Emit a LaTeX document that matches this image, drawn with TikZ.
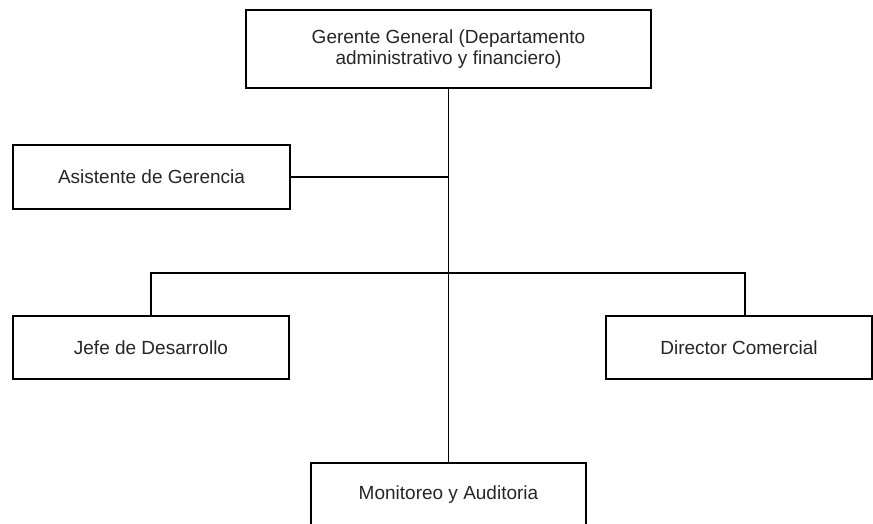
\documentclass[tikz,border=0pt]{standalone}
\usepackage{fontspec}
\setmainfont{Liberation Sans}
\begin{document}
\begin{tikzpicture}[x=1pt,y=-1pt,
  unit/.style={draw=black, line width=1.8pt, fill=white, inner sep=0pt,
    align=center, font=\fontsize{19}{21}\selectfont, text=black!85},
  link/.style={draw=black, line width=1.5pt}]
\useasboundingbox (0,0) rectangle (873,523);
% boxes: centre, width, height
\node[unit, minimum width=405pt, minimum height=78pt] (gg) at (448.5,49)
  {Gerente General (Departamento\\administrativo y financiero)};
\node[unit, minimum width=277pt, minimum height=64pt] (as) at (151.5,177)
  {Asistente de Gerencia};
\node[unit, minimum width=276pt, minimum height=63pt] (jd) at (151,347.5)
  {Jefe de Desarrollo};
\node[unit, minimum width=266pt, minimum height=63pt] (dc) at (739,347.5)
  {Director Comercial};
\node[unit, minimum width=275pt, minimum height=100pt, text depth=40pt] (ma) at (448.5,513)
  {Monitoreo y Auditoria};
% connectors
\coordinate (hub) at (gg.south |- 0,273);
\coordinate (dcin) at (745,0 |- dc.north);
\draw[link] (gg.south) -- (ma.north);
\draw[link] (as.east) -- (as.east -| gg.south);
\draw[link] (jd.north) |- (hub) -| (dcin);
\end{tikzpicture}
\end{document}
